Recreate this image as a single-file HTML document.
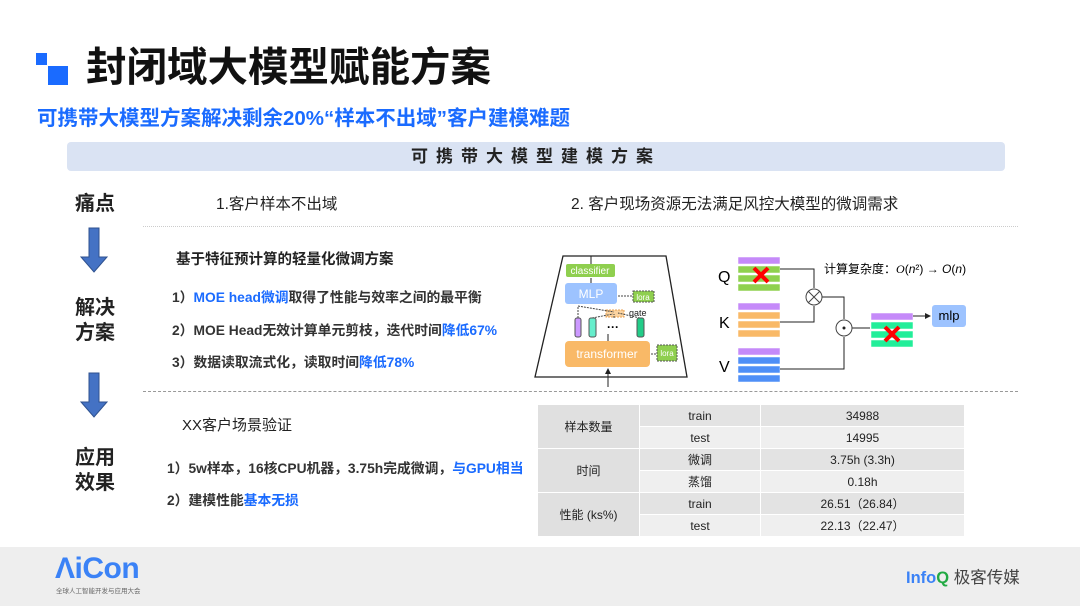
<!DOCTYPE html>
<html><head><meta charset="utf-8"><style>
*{margin:0;padding:0;box-sizing:border-box}
body{width:1080px;height:606px;background:#fff;position:relative;overflow:hidden;font-family:"Liberation Sans","Noto Sans CJK SC",sans-serif;color:#222}
.a{position:absolute;white-space:nowrap}
.b{color:#1a6bff}
.it{font-size:13.8px;font-weight:bold;color:#333}
table{border-collapse:collapse;position:absolute;left:537px;top:404px;font-size:12px}
td{text-align:center;height:22px;border:1px solid #fff;background:#e3e3e3}
tr.l td{background:#efefef}
td.h{background:#e0e0e0}
</style></head><body>
<div class="a" style="left:36px;top:53px;width:11px;height:12px;background:#1a6bff"></div>
<div class="a" style="left:48px;top:66px;width:20px;height:19px;background:#1a6bff"></div>
<div class="a" style="left:86px;top:34px;font-size:40.5px;font-weight:bold;color:#111">封闭域大模型赋能方案</div>
<div class="a b" style="left:37px;top:101px;font-size:20.5px;font-weight:bold">可携带大模型方案解决剩余20%“样本不出域”客户建模难题</div>
<div class="a" style="left:67px;top:142px;width:938px;height:29px;background:#dae3f3;border-radius:4px;text-align:center;font-size:17px;font-weight:bold;line-height:29px;letter-spacing:8px">可携带大模型建模方案</div>

<div class="a" style="left:75px;top:187px;font-size:20px;font-weight:bold">痛点</div>
<div class="a" style="left:75px;top:296px;font-size:20px;font-weight:bold;line-height:25px">解决<br>方案</div>
<div class="a" style="left:75px;top:446px;font-size:20px;font-weight:bold;line-height:25px">应用<br>效果</div>
<svg class="a" style="left:80px;top:227px" width="30" height="200">
<path d="M9 1h10v29h8l-13 15-13-15h8z" fill="#4472c4" stroke="#2f528f"/>
<path d="M9 146h10v29h8l-13 15-13-15h8z" fill="#4472c4" stroke="#2f528f"/>
</svg>

<div class="a" style="left:216px;top:192px;font-size:15.5px">1.客户样本不出域</div>
<div class="a" style="left:571px;top:192px;font-size:15.5px">2. 客户现场资源无法满足风控大模型的微调需求</div>
<div class="a" style="left:143px;top:226px;width:875px;border-top:1px dotted #ccc"></div>
<div class="a" style="left:143px;top:391px;width:875px;border-top:1px dashed #999"></div>

<div class="a" style="left:176px;top:248px;font-size:14.5px;font-weight:bold">基于特征预计算的轻量化微调方案</div>
<div class="a it" style="left:172px;top:286px">1）<span class="b">MOE head微调</span>取得了性能与效率之间的最平衡</div>
<div class="a it" style="left:172px;top:319px">2）MOE Head无效计算单元剪枝，迭代时间<span class="b">降低67%</span></div>
<div class="a it" style="left:172px;top:351px">3）数据读取流式化，读取时间<span class="b">降低78%</span></div>

<div class="a" style="left:182px;top:414px;font-size:15px">XX客户场景验证</div>
<div class="a it" style="left:167px;top:457px">1）5w样本，16核CPU机器，3.75h完成微调，<span class="b">与GPU相当</span></div>
<div class="a it" style="left:167px;top:489px">2）建模性能<span class="b">基本无损</span></div>

<svg class="a" style="left:0;top:0" width="1080" height="400" font-family="Liberation Sans, Noto Sans CJK SC, sans-serif">
<defs><marker id="m" markerWidth="6" markerHeight="6" refX="5" refY="3" orient="auto"><path d="M0,0L6,3L0,6z" fill="#222"/></marker></defs>
<path d="M563 256H666L687 377H535Z" fill="none" stroke="#222" stroke-width="1.3"/>
<line x1="608" y1="387" x2="608" y2="369" stroke="#222" marker-end="url(#m)"/>
<line x1="591" y1="264" x2="591" y2="256" stroke="#222"/>
<rect x="566" y="264" width="49" height="13" rx="2" fill="#8fcf4f"/>
<text x="590" y="274" font-size="10" fill="#fff" text-anchor="middle">classifier</text>
<line x1="591" y1="283" x2="591" y2="278" stroke="#222"/>
<rect x="565" y="283" width="52" height="21" rx="3" fill="#9dc3ff"/>
<text x="591" y="298" font-size="12" fill="#fff" text-anchor="middle">MLP</text>
<rect x="633" y="291" width="21" height="11" fill="#8fcf4f" stroke="#555" stroke-dasharray="2,1"/>
<text x="643" y="300" font-size="8" fill="#fff" text-anchor="middle">lora</text>
<line x1="632" y1="296" x2="618" y2="296" stroke="#444" stroke-dasharray="2,1"/>
<rect x="606" y="310" width="18" height="7" fill="#fbd3a0" stroke="#e9a050" stroke-dasharray="2,1"/>
<text x="629" y="316" font-size="9" fill="#222">gate</text>
<path d="M578 318V306l36 6M592 318l21-4M640 318l-22-5M614 318v-4" stroke="#444" fill="none" stroke-dasharray="2,1"/>
<rect x="575" y="318" width="6" height="19" rx="2" fill="#cc99ff" stroke="#555"/>
<rect x="589" y="318" width="7" height="19" rx="2" fill="#66eecc" stroke="#555"/>
<rect x="637" y="318" width="7" height="19" rx="2" fill="#22cc88" stroke="#555"/>
<text x="613" y="331" font-size="12" font-weight="bold" text-anchor="middle">···</text>
<line x1="608" y1="341" x2="608" y2="334" stroke="#222"/>
<rect x="565" y="341" width="85" height="26" rx="4" fill="#f9b967"/>
<text x="607" y="358" font-size="12" fill="#fff" text-anchor="middle">transformer</text>
<rect x="657" y="345" width="20" height="16" fill="#8fcf4f" stroke="#555" stroke-dasharray="2,1"/>
<text x="667" y="356" font-size="8" fill="#fff" text-anchor="middle">lora</text>
<line x1="656" y1="354" x2="651" y2="354" stroke="#444" stroke-dasharray="2,1"/>

<text x="718" y="282" font-size="16">Q</text>
<text x="719" y="328" font-size="16">K</text>
<text x="719" y="372" font-size="16">V</text>
<g stroke="#fff" stroke-width="0.5">
<rect x="738" y="257" width="42" height="7" fill="#c58af9"/>
<rect x="738" y="266" width="42" height="7" fill="#8fd14f"/><rect x="738" y="275" width="42" height="7" fill="#8fd14f"/><rect x="738" y="284" width="42" height="7" fill="#8fd14f"/>
<rect x="738" y="303" width="42" height="7" fill="#c58af9"/>
<rect x="738" y="312" width="42" height="7" fill="#f9b967"/><rect x="738" y="321" width="42" height="7" fill="#f9b967"/><rect x="738" y="330" width="42" height="7" fill="#f9b967"/>
<rect x="738" y="348" width="42" height="7" fill="#c58af9"/>
<rect x="738" y="357" width="42" height="7" fill="#4f8ff7"/><rect x="738" y="366" width="42" height="7" fill="#4f8ff7"/><rect x="738" y="375" width="42" height="7" fill="#4f8ff7"/>
<rect x="871" y="313" width="42" height="7" fill="#c58af9"/>
<rect x="871" y="322" width="42" height="7" fill="#22ee99"/><rect x="871" y="331" width="42" height="7" fill="#22ee99"/><rect x="871" y="340" width="42" height="7" fill="#22ee99"/>
</g>
<path d="M754 268l14 14M768 268l-14 14" stroke="#f00" stroke-width="4"/>
<path d="M885 327l14 14M899 327l-14 14" stroke="#f00" stroke-width="4"/>
<path d="M780 269H814V288M780 322H814V306M822 297H844V319M780 369H844V337M852 328H870M913 316H930" fill="none" stroke="#222" marker-end="url(#m)"/>
<circle cx="814" cy="297" r="8" fill="#fff" stroke="#444"/>
<path d="M808 291l12 12M820 291l-12 12" stroke="#444"/>
<circle cx="844" cy="328" r="8" fill="#fff" stroke="#444"/>
<circle cx="844" cy="328" r="1.5" fill="#222"/>
<rect x="932" y="305" width="34" height="22" rx="3" fill="#9dc3ff"/>
<text x="949" y="320" font-size="13" text-anchor="middle">mlp</text>
<text x="824" y="273" font-size="12">计算复杂度：<tspan font-family="Liberation Serif" font-style="italic">O</tspan>(<tspan font-style="italic">n</tspan>²) → <tspan font-style="italic">O</tspan>(<tspan font-style="italic">n</tspan>)</text>
</svg>

<table>
<tr><td class="h" rowspan="2" style="width:102px">样本数量</td><td style="width:121px">train</td><td style="width:204px">34988</td></tr>
<tr class="l"><td>test</td><td>14995</td></tr>
<tr><td class="h" rowspan="2">时间</td><td>微调</td><td>3.75h (3.3h)</td></tr>
<tr class="l"><td>蒸馏</td><td>0.18h</td></tr>
<tr><td class="h" rowspan="2">性能 (ks%)</td><td>train</td><td>26.51（26.84）</td></tr>
<tr class="l"><td>test</td><td>22.13（22.47）</td></tr>
</table>

<div class="a" style="left:0;top:547px;width:1080px;height:59px;background:#eeeeee"></div>
<div class="a" style="left:55px;top:552px;font-size:30px;font-weight:bold;color:#3b82f6;letter-spacing:-0.5px">ΛiCon</div>
<div class="a" style="left:56px;top:585px;font-size:6.5px;color:#666">全球人工智能开发与应用大会</div>
<div class="a" style="left:906px;top:564px;font-size:16.5px;font-weight:bold;color:#3b82f6">Info<span style="color:#22aa44">Q</span> <span style="color:#444;font-weight:normal">极客传媒</span></div>
</body></html>
